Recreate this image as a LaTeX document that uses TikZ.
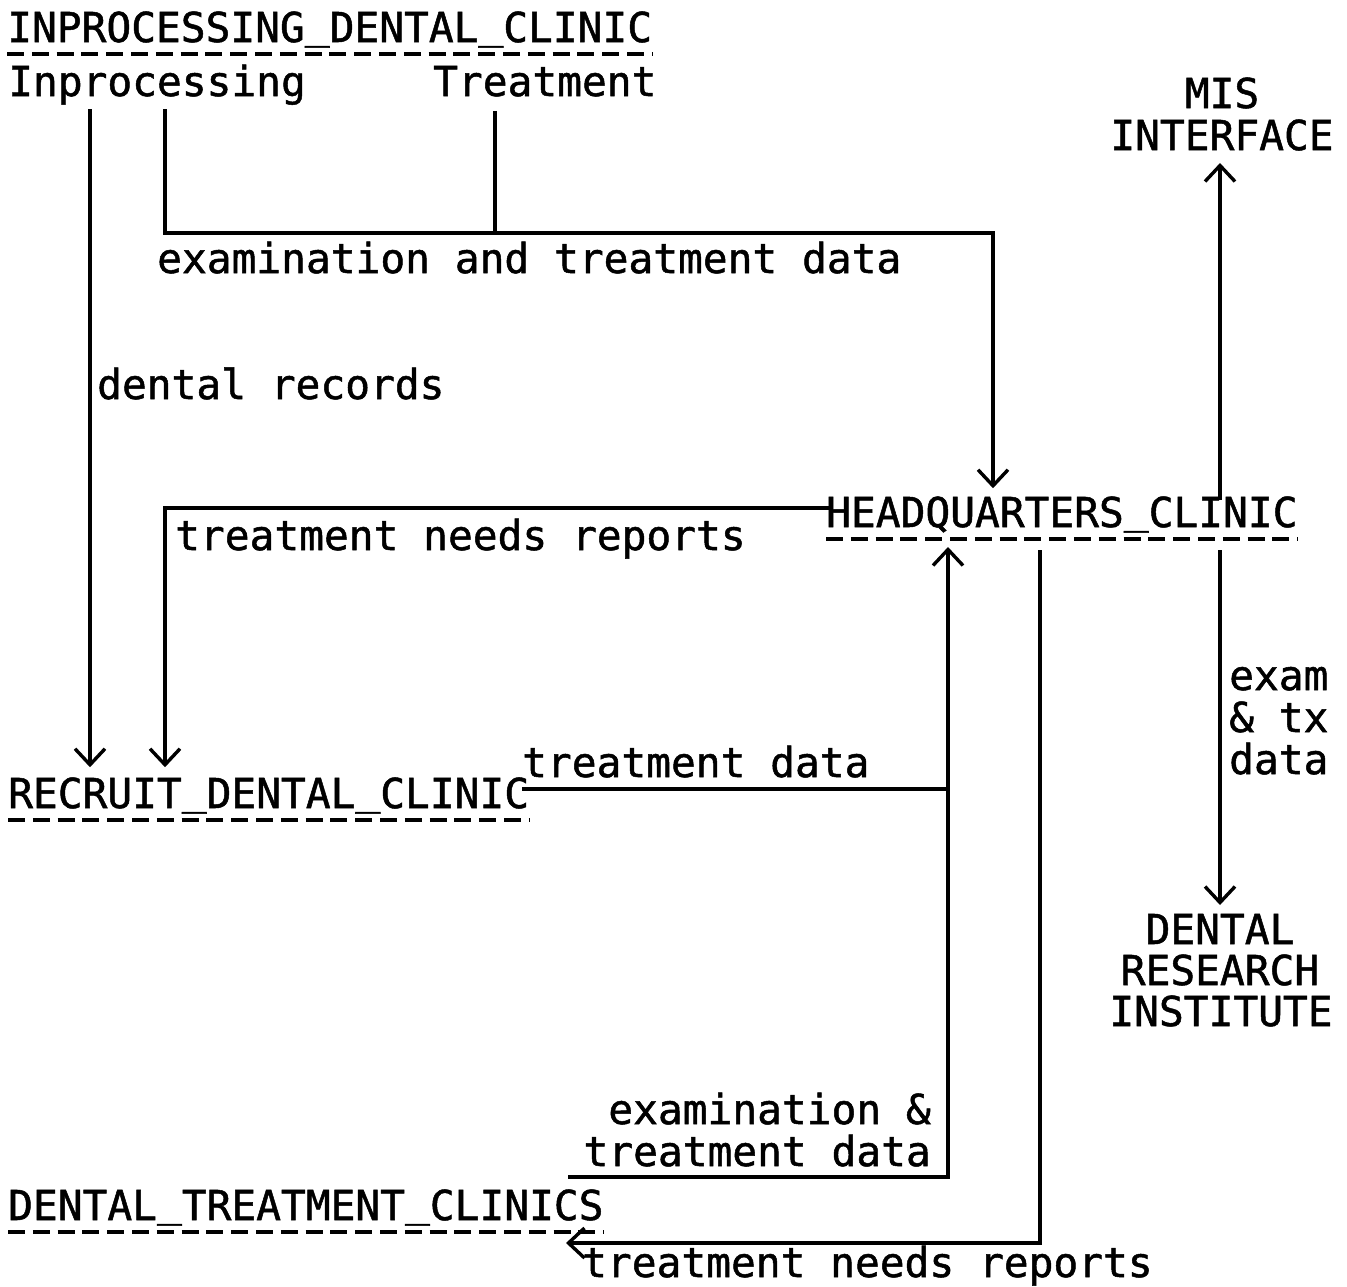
\documentclass[tikz,border=0pt]{standalone}
\usepackage{fontspec}
\usetikzlibrary{arrows.meta,calc}
\newfontfamily\plotfont[FakeBold=1.2]{DejaVu Sans Mono}
\newcommand\lbfont{\plotfont\fontsize{41.2}{42}\selectfont}
\newcommand\us{\raisebox{4pt}{\_}}
\tikzset{
  lbl/.style={inner sep=0pt, font=\lbfont},
  ln/.style={line width=3.4pt},
  arr/.style={ln, -{Straight Barb[length=16pt,width=30pt]}},
  dashu/.style={line width=3.2pt, dash pattern=on 17pt off 7.8pt}
}
\begin{document}
\begin{tikzpicture}[x=1pt,y=-1pt]
\useasboundingbox (0,0) rectangle (1347,1286);
\fill[white] (0,0) rectangle (1347,1286);

% titles
\node[lbl,anchor=base west] (idc) at (7,42) {INPROCESSING\us DENTAL\us CLINIC};
\node[lbl,anchor=base west] (hq) at (826,527) {HEADQUARTERS\us CLINIC};
\node[lbl,anchor=base west] (recruit) at (8,808) {RECRUIT\us DENTAL\us CLINIC};
\node[lbl,anchor=base west] (dtc) at (8,1220) {DENTAL\us TREATMENT\us CLINICS};
\foreach \n in {idc,hq,recruit,dtc}{
  \draw[dashu] ([yshift=-12pt]\n.base west) -- ([yshift=-12pt]\n.base east);
}

% sub headings
\node[lbl,anchor=base west] (inproc) at (8,96) {Inprocessing};
\node[lbl,anchor=base west] (treat) at (433,96) {Treatment};

% external entities
\node[lbl,anchor=base] (mis) at (1222,108) {MIS};
\node[lbl,anchor=base] (interface) at (1222,150) {INTERFACE};
\node[lbl,anchor=base] (dental) at (1220,944) {DENTAL};
\node[lbl,anchor=base] (research) at (1220,985) {RESEARCH};
\node[lbl,anchor=base] (institute) at (1221,1026) {INSTITUTE};

% flow labels
\node[lbl,anchor=base west] (etd) at (157,273) {examination and treatment data};
\node[lbl,anchor=base west] (drec) at (97,399) {dental records};
\node[lbl,anchor=base west] (tnr1) at (175,550) {treatment needs reports};
\node[lbl,anchor=base west] (td) at (522,777) {treatment data};
\node[lbl,anchor=base west] (ex1) at (1229,690) {exam};
\node[lbl,anchor=base west] (ex2) at (1229,732) {\& tx};
\node[lbl,anchor=base west] (ex3) at (1229,774) {data};
\node[lbl,anchor=base east] (etd3) at (931,1124) {examination \&};
\node[lbl,anchor=base east] (etd4) at (931,1166) {treatment data};
\node[lbl,anchor=base west] (tnr2) at (582,1277) {treatment needs reports};

% helper coordinates
\coordinate (hqL) at ($(hq.base west)+(7,-19)$);
\coordinate (hqB) at ($(hq.base west)+(122,20)$);
\coordinate (hqC) at ($(hq.base west)+(214,23)$);
\coordinate (hqT) at ($(hq.base west)+(394,-27)$);
\coordinate (hqD) at ($(hq.base west)+(394,23)$);
\coordinate (recE) at ($(recruit.base east)+(-7,-19)$);
\coordinate (dtcTip) at ($(tnr2.base west)+(-16,-34)$);
\coordinate (etdS) at ($(etd4.base west)+(-15,11)$);
\coordinate (j1) at (495,233);

% connectors
\draw[arr,shorten >=10pt] (90,0 |- inproc.south) ++(0,4) -- (90,0 |- recruit.north);
\draw[arr,shorten >=8pt] (165,0 |- inproc.south) ++(0,4) |- (993,0 |- j1) -- (993,0 |- hq.north);
\draw[ln] (j1 |- treat.south) ++(0,14) -- (j1);
\draw[arr,shorten >=10pt] (hqL) -| (165,0 |- recruit.north);
\draw[arr] (etdS) -| (hqB);
\draw[ln] (hqB |- recE) -- (recE);
\draw[arr] (hqC) |- (dtcTip);
\draw[arr] (hqT) -- ($(interface.base)+(-2,13)$);
\draw[arr] (hqD) -- ($(dental.base)+(0,-39)$);
\end{tikzpicture}
\end{document}
